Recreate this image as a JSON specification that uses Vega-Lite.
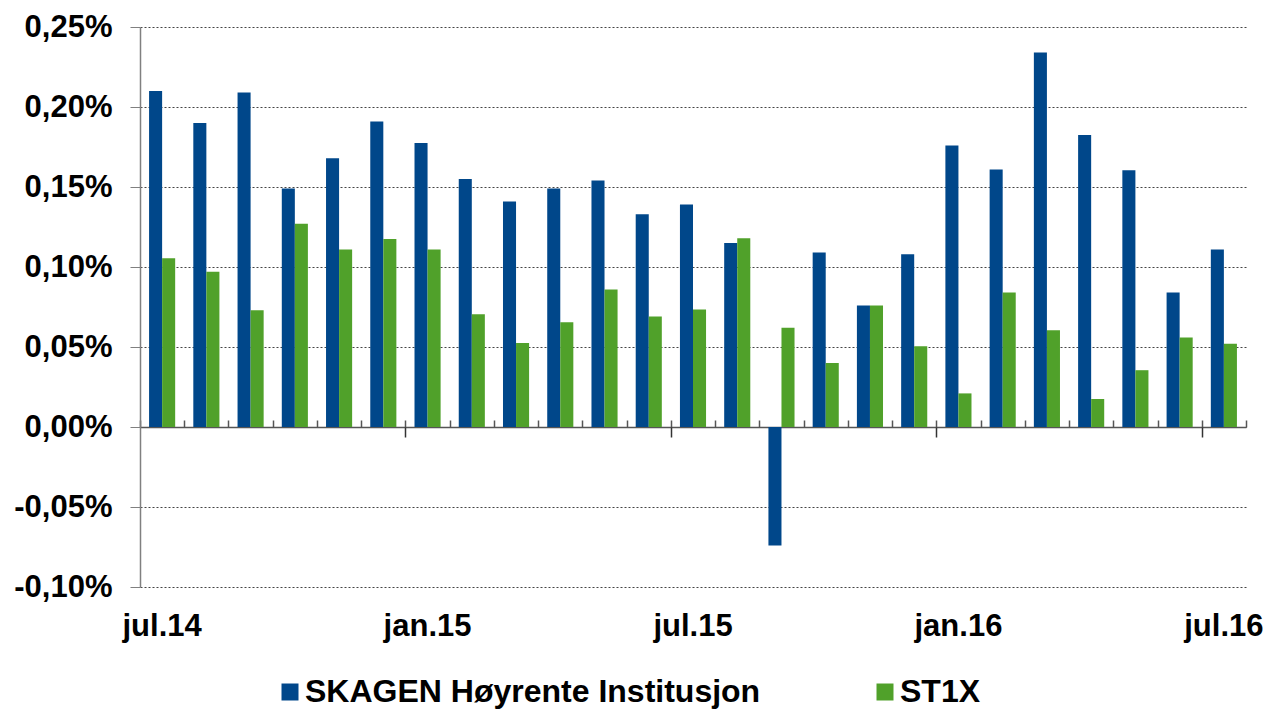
{
  "$schema": "https://vega.github.io/schema/vega-lite/v6.json",
  "width": 1106,
  "height": 560,
  "autosize": {"type": "none"},
  "padding": {"left": 140, "top": 27, "right": 26, "bottom": 124},
  "background": "white",
  "data": {
    "values": [
      {"month": "jul.14", "series": "SKAGEN Høyrente Institusjon", "value": 0.21},
      {"month": "jul.14", "series": "ST1X", "value": 0.1055},
      {"month": "aug.14", "series": "SKAGEN Høyrente Institusjon", "value": 0.19},
      {"month": "aug.14", "series": "ST1X", "value": 0.097},
      {"month": "sep.14", "series": "SKAGEN Høyrente Institusjon", "value": 0.209},
      {"month": "sep.14", "series": "ST1X", "value": 0.073},
      {"month": "okt.14", "series": "SKAGEN Høyrente Institusjon", "value": 0.149},
      {"month": "okt.14", "series": "ST1X", "value": 0.127},
      {"month": "nov.14", "series": "SKAGEN Høyrente Institusjon", "value": 0.168},
      {"month": "nov.14", "series": "ST1X", "value": 0.111},
      {"month": "des.14", "series": "SKAGEN Høyrente Institusjon", "value": 0.191},
      {"month": "des.14", "series": "ST1X", "value": 0.1175},
      {"month": "jan.15", "series": "SKAGEN Høyrente Institusjon", "value": 0.1775},
      {"month": "jan.15", "series": "ST1X", "value": 0.111},
      {"month": "feb.15", "series": "SKAGEN Høyrente Institusjon", "value": 0.155},
      {"month": "feb.15", "series": "ST1X", "value": 0.0705},
      {"month": "mar.15", "series": "SKAGEN Høyrente Institusjon", "value": 0.141},
      {"month": "mar.15", "series": "ST1X", "value": 0.0525},
      {"month": "apr.15", "series": "SKAGEN Høyrente Institusjon", "value": 0.149},
      {"month": "apr.15", "series": "ST1X", "value": 0.0655},
      {"month": "mai.15", "series": "SKAGEN Høyrente Institusjon", "value": 0.154},
      {"month": "mai.15", "series": "ST1X", "value": 0.086},
      {"month": "jun.15", "series": "SKAGEN Høyrente Institusjon", "value": 0.133},
      {"month": "jun.15", "series": "ST1X", "value": 0.069},
      {"month": "jul.15", "series": "SKAGEN Høyrente Institusjon", "value": 0.139},
      {"month": "jul.15", "series": "ST1X", "value": 0.0735},
      {"month": "aug.15", "series": "SKAGEN Høyrente Institusjon", "value": 0.115},
      {"month": "aug.15", "series": "ST1X", "value": 0.118},
      {"month": "sep.15", "series": "SKAGEN Høyrente Institusjon", "value": -0.074},
      {"month": "sep.15", "series": "ST1X", "value": 0.062},
      {"month": "okt.15", "series": "SKAGEN Høyrente Institusjon", "value": 0.109},
      {"month": "okt.15", "series": "ST1X", "value": 0.04},
      {"month": "nov.15", "series": "SKAGEN Høyrente Institusjon", "value": 0.076},
      {"month": "nov.15", "series": "ST1X", "value": 0.076},
      {"month": "des.15", "series": "SKAGEN Høyrente Institusjon", "value": 0.108},
      {"month": "des.15", "series": "ST1X", "value": 0.0505},
      {"month": "jan.16", "series": "SKAGEN Høyrente Institusjon", "value": 0.176},
      {"month": "jan.16", "series": "ST1X", "value": 0.021},
      {"month": "feb.16", "series": "SKAGEN Høyrente Institusjon", "value": 0.161},
      {"month": "feb.16", "series": "ST1X", "value": 0.084},
      {"month": "mar.16", "series": "SKAGEN Høyrente Institusjon", "value": 0.234},
      {"month": "mar.16", "series": "ST1X", "value": 0.0605},
      {"month": "apr.16", "series": "SKAGEN Høyrente Institusjon", "value": 0.1825},
      {"month": "apr.16", "series": "ST1X", "value": 0.0175},
      {"month": "mai.16", "series": "SKAGEN Høyrente Institusjon", "value": 0.1605},
      {"month": "mai.16", "series": "ST1X", "value": 0.0355},
      {"month": "jun.16", "series": "SKAGEN Høyrente Institusjon", "value": 0.084},
      {"month": "jun.16", "series": "ST1X", "value": 0.056},
      {"month": "jul.16", "series": "SKAGEN Høyrente Institusjon", "value": 0.111},
      {"month": "jul.16", "series": "ST1X", "value": 0.052}
    ]
  },
  "layer": [
    {
      "mark": {"type": "bar"},
      "encoding": {
        "x": {
          "field": "month", "type": "ordinal", "sort": null,
          "scale": {"paddingInner": 0, "paddingOuter": 0},
          "axis": {
            "orient": "bottom", "values": ["jul.14", "jan.15", "jul.15", "jan.16", "jul.16"],
            "domain": false, "ticks": false, "grid": false, "title": null,
            "labelAngle": 0, "labelPadding": 24, "labelFontSize": 31,
            "labelFont": "Liberation Sans", "labelFontWeight": "bold", "labelColor": "#000000"
          }
        },
        "xOffset": {"field": "series", "type": "nominal", "sort": null, "scale": {"paddingInner": 0, "paddingOuter": 0.695}},
        "y": {
          "field": "value", "type": "quantitative",
          "scale": {"domain": [-0.1, 0.25], "nice": false, "zero": false},
          "axis": {
            "values": [-0.1, -0.05, 0, 0.05, 0.1, 0.15, 0.2, 0.25],
            "labelExpr": "replace(replace(format(datum.value,'.2f'),'.',','),'\u2212','-') + '%'",
            "title": null, "grid": true, "gridDash": [2, 2], "gridColor": "#444444", "gridWidth": 1,
            "domainColor": "#808080", "domainWidth": 1.5, "tickColor": "#808080", "tickSize": 10,
            "labelPadding": 18, "labelFontSize": 31, "labelFont": "Liberation Sans",
            "labelFontWeight": "bold", "labelColor": "#000000"
          }
        },
        "color": {
          "field": "series", "type": "nominal",
          "scale": {"domain": ["SKAGEN Høyrente Institusjon", "ST1X"], "range": ["#00478A", "#50A12A"]},
          "legend": {
            "orient": "none", "legendX": 134, "legendY": 649, "direction": "horizontal", "title": null,
            "symbolType": "square", "symbolSize": 289, "symbolStrokeWidth": 0, "labelOffset": -1,
            "labelFontSize": 32, "labelFont": "Liberation Sans", "labelFontWeight": "bold",
            "labelColor": "#000000", "columnPadding": 108, "labelLimit": 0
          }
        }
      }
    },
    {
      "mark": {"type": "point", "opacity": 0},
      "encoding": {
        "x": {
          "field": "month", "type": "ordinal", "sort": null,
          "axis": {
            "orient": "top", "offset": -400, "tickBand": "extent", "labels": false,
            "domain": true, "domainColor": "#555555", "domainWidth": 1.5,
            "ticks": true, "tickSize": 7, "tickColor": "#555555", "tickWidth": 1.5,
            "grid": false, "title": null
          }
        },
        "y": {"datum": 0, "type": "quantitative"}
      }
    },
    {
      "mark": {"type": "point", "opacity": 0},
      "encoding": {
        "x": {
          "field": "month", "type": "ordinal", "sort": null,
          "axis": {
            "orient": "bottom", "offset": -160, "tickOffset": -22.12, "labels": false,
            "values": ["jan.15", "jul.15", "jan.16", "jul.16"],
            "domain": false, "ticks": true, "tickSize": 10, "tickColor": "#333333", "tickWidth": 1.5,
            "grid": false, "title": null
          }
        },
        "y": {"datum": 0, "type": "quantitative"}
      }
    }
  ],
  "resolve": {"axis": {"x": "independent"}},
  "config": {"view": {"stroke": null}}
}
